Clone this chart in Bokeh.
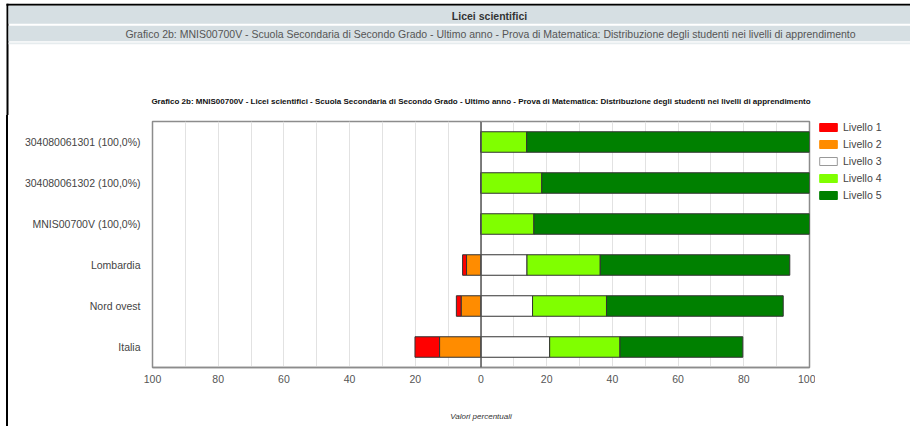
import numpy as np
from bokeh.plotting import figure
from bokeh.layouts import column, row
from bokeh.models import (ColumnDataSource, FactorRange, FixedTicker, Span,
                          Legend, LegendItem, Range1d, Spacer)
from bokeh.core.properties import value
from bokeh.embed import file_html
from bokeh.resources import INLINE

# ---------------- data ----------------
categories = ["304080061301 (100,0%)", "304080061302 (100,0%)", "MNIS00700V (100,0%)",
              "Lombardia", "Nord ovest", "Italia"]
livello1 = [0.0, 0.0, 0.0, 1.2, 1.5, 7.5]
livello2 = [0.0, 0.0, 0.0, 4.4, 6.0, 12.6]
livello3 = [0.0, 0.0, 0.0, 14.0, 15.7, 20.9]
livello4 = [13.9, 18.5, 16.1, 22.3, 22.5, 21.4]
livello5 = [86.1, 81.5, 83.9, 57.7, 53.8, 37.4]
level_names = ["Livello 1", "Livello 2", "Livello 3", "Livello 4", "Livello 5"]
level_colors = ["#ff0000", "#ff8c00", "#ffffff", "#80ff00", "#008000"]
tick_values = [-100, -80, -60, -40, -20, 0, 20, 40, 60, 80, 100]
grid_values = list(range(-100, 101, 10))

band1_text = "Licei scientifici"
band2_text = ("Grafico 2b: MNIS00700V - Scuola Secondaria di Secondo Grado - Ultimo anno - "
              "Prova di Matematica: Distribuzione degli studenti nei livelli di apprendimento")
chart_title = ("Grafico 2b: MNIS00700V - Licei scientifici - Scuola Secondaria di Secondo Grado - "
               "Ultimo anno - Prova di Matematica: Distribuzione degli studenti nei livelli di apprendimento")
x_label = "Valori percentuali"

FONT = "Liberation Sans"
W = 910
HEAD_H = 115
MAIN_H = 426 - HEAD_H
GAP_W = 6
STRIP_W = 2
MAIN_W = 807
LEG_W = W - GAP_W - STRIP_W - MAIN_W
B_TOP, B_BOTTOM = 6, 59


def bare(fig, color="white"):
    fig.outline_line_color = None
    fig.grid.grid_line_color = None
    fig.background_fill_color = color
    fig.border_fill_color = color
    return fig


# ---------------- header: page bands + chart title ----------------
hd = bare(figure(width=W, height=HEAD_H, output_backend="svg", toolbar_location=None,
                 x_range=Range1d(0, W), y_range=Range1d(HEAD_H, 0),
                 x_axis_location=None, y_axis_location=None, min_border=0))
hd.quad(left=[6, 6], right=[W, 8], top=[3.3, 3.3], bottom=[5.2, HEAD_H],
        fill_color="black", line_color=None)
hd.quad(left=[8, 8, 8], right=[W, W, W], top=[5.2, 25.3, 42.0], bottom=[23.3, 40.7, 43.7],
        fill_color=["#d6dfe3", "#d6dfe3", "#e6ecee"], line_color=None)
hd.text(x=[489], y=[15], text=[band1_text], text_align="center", text_baseline="middle",
        text_font=value(FONT), text_font_size="10.5px", text_font_style="bold",
        text_color="#333333")
hd.text(x=[490], y=[33.5], text=[band2_text], text_align="center", text_baseline="middle",
        text_font=value(FONT), text_font_size="10.5px", text_color="#555555")
hd.text(x=[480.5], y=[101], text=[chart_title], text_align="center", text_baseline="middle",
        text_font=value(FONT), text_font_size="8px", text_font_style="bold",
        text_color="#111111")

# ---------------- left black border ----------------
gap = Spacer(width=GAP_W, height=MAIN_H)
strip = Spacer(width=STRIP_W, height=MAIN_H, styles={"background-color": "black"})

# ---------------- main chart ----------------
l1 = np.array(livello1); l2 = np.array(livello2); l3 = np.array(livello3)
l4 = np.array(livello4); l5 = np.array(livello5)
lefts = [-(l1 + l2), -l2, np.zeros_like(l3), l3, l3 + l4]
rights = [-l2, np.zeros_like(l2), l3, l3 + l4, l3 + l4 + l5]

p = figure(width=MAIN_W, height=MAIN_H, output_backend="svg", toolbar_location=None,
           y_range=FactorRange(factors=list(reversed(categories)), range_padding=0),
           x_range=Range1d(-100, 100),
           min_border_left=144, min_border_right=6, min_border_top=B_TOP,
           min_border_bottom=B_BOTTOM)
p.background_fill_color = "white"
p.border_fill_color = "white"
p.outline_line_color = "#8c8c8c"
p.outline_line_width = 1.5

for i in range(5):
    src = ColumnDataSource(dict(y=categories, left=lefts[i], right=rights[i]))
    p.hbar(y="y", left="left", right="right", height=0.5, source=src,
           fill_color=level_colors[i], line_color="#333333", line_width=1)

p.add_layout(Span(location=0, dimension="height", line_color="#555555", line_width=1.5))

p.xaxis.ticker = FixedTicker(ticks=tick_values)
p.xaxis.major_label_overrides = {v: str(abs(v)) for v in tick_values}
p.xaxis.major_label_text_font = FONT
p.xaxis.major_label_text_font_size = "10.5px"
p.xaxis.major_label_text_color = "#555555"
p.xaxis.major_tick_line_color = None
p.xaxis.major_tick_out = 0
p.xaxis.major_tick_in = 0
p.xaxis.minor_tick_line_color = None
p.xaxis.axis_line_color = "#8c8c8c"
p.xaxis.axis_line_width = 1.5
p.xaxis.major_label_standoff = 7
p.xaxis.axis_label = x_label
p.xaxis.axis_label_text_font = FONT
p.xaxis.axis_label_text_font_size = "8px"
p.xaxis.axis_label_text_font_style = "italic"
p.xaxis.axis_label_text_color = "#333333"
p.xaxis.axis_label_standoff = 26

p.yaxis.major_label_text_font = FONT
p.yaxis.major_label_text_font_size = "10.5px"
p.yaxis.major_label_text_color = "#444444"
p.yaxis.major_tick_line_color = None
p.yaxis.major_tick_out = 0
p.yaxis.major_tick_in = 0
p.yaxis.minor_tick_line_color = None
p.yaxis.axis_line_color = None
p.yaxis.major_label_standoff = 12

p.xgrid.ticker = FixedTicker(ticks=grid_values)
p.xgrid.grid_line_color = "#e2e2e2"
p.ygrid.grid_line_color = None

# ---------------- legend panel ----------------
lg = bare(figure(width=LEG_W, height=MAIN_H, output_backend="svg", toolbar_location=None,
                 x_range=Range1d(0, 1), y_range=Range1d(0, 1),
                 x_axis_location=None, y_axis_location=None, min_border=0,
                 min_border_top=B_TOP, min_border_bottom=B_BOTTOM))
items = []
for i in range(5):
    # swatch renderers: their single bar lies outside the visible range
    r = lg.hbar(y=[5], left=[5], right=[6], height=0.5, fill_color=level_colors[i],
                line_color=("#999999" if level_colors[i] == "#ffffff" else level_colors[i]))
    items.append(LegendItem(label=level_names[i], renderers=[r]))
leg = Legend(items=items, location=(2, 166), padding=0, margin=0, spacing=5,
             glyph_width=22, glyph_height=10, label_height=10, label_standoff=4,
             label_text_font=FONT, label_text_font_size="10.5px", label_text_color="#444444",
             border_line_color=None, background_fill_alpha=0)
lg.add_layout(leg)

layout = column(hd, row(gap, strip, p, lg, spacing=0), spacing=0)
open("out.html", "w").write(file_html(layout, INLINE))
